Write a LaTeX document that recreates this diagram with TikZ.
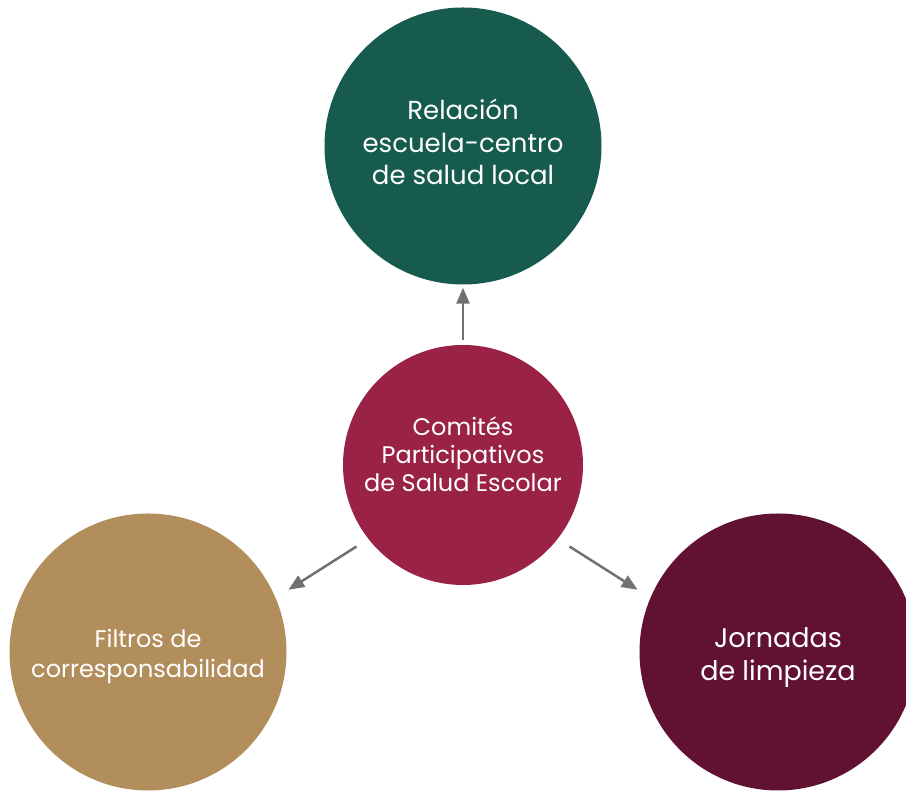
\documentclass[tikz,border=0pt]{standalone}
\usepackage{fontspec}
\setmainfont{Poppins}
\usepackage{xcolor}
\usepackage{tikz}
\usetikzlibrary{shapes.geometric, arrows.meta}
\definecolor{verde}{HTML}{175B4F}
\definecolor{guinda}{HTML}{9B2247}
\definecolor{vino}{HTML}{611232}
\definecolor{dorado}{HTML}{B38E5D}
\definecolor{gris}{HTML}{6F7271}
\tikzstyle{core} = [circle, minimum size=240pt, inner sep=0pt, fill=guinda]
\tikzstyle{branch} = [circle, minimum size=277pt, inner sep=0pt]
\tikzstyle{caption} = [text=white, align=center, inner sep=0pt]
\tikzstyle{arrow} = [line width=2.5pt, draw=gris, -{Triangle[length=16pt,width=13pt]}]

\begin{document}
\begin{tikzpicture}[x=1pt, y=1pt]
\useasboundingbox (0,0) rectangle (906,792);
\clip (0,0) rectangle (906,792);
\node (comites) [core] at (463,327) {};
\node (relacion) [branch, fill=verde] at (463,646) {};
\node (filtros) [branch, fill=dorado] at (148,140) {};
\node (jornadas) [branch, fill=vino] at (778,140) {};

\node (tcomites) [caption, font=\fontsize{24}{28}\selectfont] at ([yshift=11pt]comites.center) {Comités\\Participativos\\de Salud Escolar};
\node (trelacion) [caption, font=\fontsize{26}{32.5}\selectfont] at ([yshift=4pt]relacion.center) {Relación\\escuela-centro\\de salud local};
\node (tfiltros) [caption, font=\fontsize{24}{30}\selectfont] at ([yshift=-4pt]filtros.center) {Filtros de\\corresponsabilidad};
\node (tjornadas) [caption, font=\fontsize{27}{33}\selectfont] at ([yshift=-6pt]jornadas.center) {Jornadas\\de limpieza};

\draw [arrow, shorten <=5pt, shorten >=3pt] (comites.90) -- (relacion.270);
\draw [arrow, shorten <=14pt, shorten >=15pt] (comites.218) -- (filtros.23);
\draw [arrow, shorten <=14pt, shorten >=15pt] (comites.322) -- (jornadas.157);
\end{tikzpicture}
\end{document}
